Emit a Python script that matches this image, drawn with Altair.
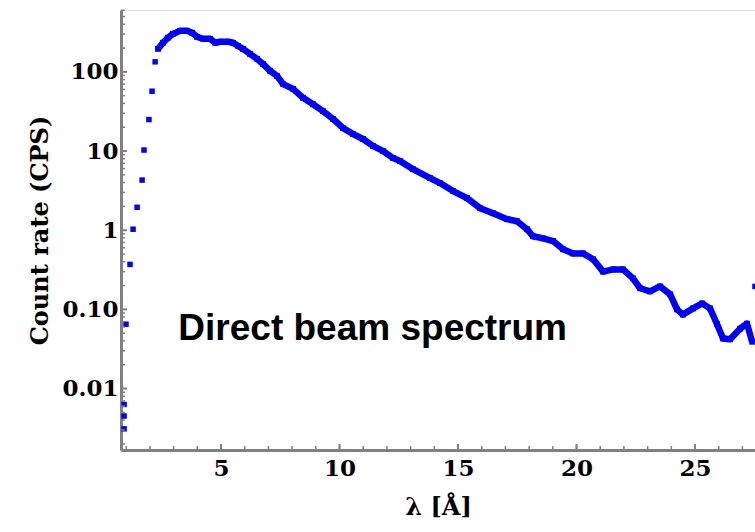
import altair as alt
import pandas as pd

# sparse points on the rising edge (and one stray point at the far right)
sparse_x = [0.91, 0.91, 0.91, 0.99, 1.16, 1.29, 1.46, 1.67, 1.75, 1.96, 2.09, 2.22, 27.53]
sparse_y = [0.0031, 0.0045, 0.0063, 0.065, 0.37, 1.03, 1.95, 4.3, 10.3, 25, 57, 134, 0.195]

# dense part of the spectrum
curve_x = [2.34, 2.55, 2.76, 2.97, 3.27, 3.57, 3.78, 3.99, 4.24, 4.54, 4.75, 4.96, 5.30, 5.51,
           5.72, 5.93, 6.22, 6.52, 6.77, 7.07, 7.36, 7.62, 8.04, 8.46, 8.88, 9.30, 9.73, 10.15,
           10.57, 10.99, 11.41, 11.84, 12.26, 12.55, 13.10, 13.82, 14.24, 14.79, 15.38, 15.93,
           16.48, 17.07, 17.49, 17.91, 18.16, 18.59, 19.01, 19.43, 19.85, 20.27, 20.70, 21.12,
           21.54, 21.96, 22.38, 22.68, 23.10, 23.52, 23.95, 24.24, 24.49, 24.92, 25.30, 25.63,
           25.93, 26.18, 26.48, 26.90, 27.19, 27.41]
curve_y = [195, 233, 270, 302, 330, 330, 312, 277, 262, 262, 233, 240, 240, 233,
           213, 195, 169, 146, 126, 103, 89, 70, 61, 47, 39, 32, 25.4, 19.5,
           16.4, 14.2, 11.6, 10, 8.15, 7.5, 5.9, 4.55, 3.94, 3.12, 2.54, 1.90,
           1.64, 1.38, 1.30, 1.03, 0.84, 0.79, 0.73, 0.575, 0.51, 0.51, 0.43, 0.30,
           0.32, 0.32, 0.247, 0.185, 0.169, 0.195, 0.155, 0.10, 0.086, 0.103, 0.119, 0.103,
           0.065, 0.043, 0.042, 0.057, 0.066, 0.039]

x_major = [5, 10, 15, 20, 25]
x_minor = list(range(1, 28))
y_major = [0.01, 0.1, 1, 10, 100]
y_minor = [m * d for d in [0.001, 0.01, 0.1, 1, 10, 100] for m in range(2, 10)]
y_minor = [v for v in y_minor if 0.0017 <= v <= 600]

annotation = "Direct beam spectrum"
anno_x, anno_y = 3.2, 0.041

W, H = 634, 440
BLUE = "#0000FF"
GREY = "#808080"
TICK_FONT = "DejaVu Serif"

xscale = alt.Scale(domain=[0.78, 27.53], nice=False, zero=False)
yscale = alt.Scale(type="log", domain=[0.001675, 605], nice=False)

x_axis = alt.Axis(values=x_major, ticks=False, grid=False, domainColor=GREY, domainWidth=3,
                  labelFont=TICK_FONT, labelFontWeight="bold", labelFontSize=23, labelColor="black",
                  labelPadding=7, title="λ [Å]", titleFont=TICK_FONT, titleFontWeight="bold",
                  titleFontSize=24, titleColor="black", titlePadding=15, format="d")
y_axis = alt.Axis(values=y_major, ticks=False, grid=False, domainColor=GREY, domainWidth=3,
                  labelFont=TICK_FONT, labelFontWeight="bold", labelFontSize=23, labelColor="black",
                  labelPadding=3,
                  labelExpr="datum.value >= 1 ? format(datum.value, 'd') : format(datum.value, '.2f')",
                  title="Count rate (CPS)", titleFont=TICK_FONT, titleFontWeight="bold",
                  titleFontSize=24, titleColor="black", titlePadding=9)

curve_df = pd.DataFrame({"x": curve_x, "y": curve_y})
sparse_df = pd.DataFrame({"x": sparse_x, "y": sparse_y})

line = alt.Chart(curve_df).mark_line(color=BLUE, strokeWidth=6.5, strokeJoin="round", clip=True).encode(
    x=alt.X("x:Q", scale=xscale, axis=x_axis),
    y=alt.Y("y:Q", scale=yscale, axis=y_axis),
)
curve_pts = alt.Chart(curve_df).mark_square(color=BLUE, size=34, opacity=1, clip=True).encode(
    x=alt.X("x:Q", scale=xscale), y=alt.Y("y:Q", scale=yscale)
)
pts = alt.Chart(sparse_df).mark_square(color=BLUE, size=30, opacity=1, clip=True).encode(
    x=alt.X("x:Q", scale=xscale), y=alt.Y("y:Q", scale=yscale)
)

xmaj = alt.Chart(pd.DataFrame({"t": x_major})).mark_rule(color=GREY, strokeWidth=2).encode(
    x=alt.X("t:Q", scale=xscale), y=alt.value(H), y2=alt.value(H - 6))
xmin = alt.Chart(pd.DataFrame({"t": x_minor})).mark_rule(color=GREY, strokeWidth=1.5).encode(
    x=alt.X("t:Q", scale=xscale), y=alt.value(H), y2=alt.value(H - 4))
ymaj = alt.Chart(pd.DataFrame({"t": y_major})).mark_rule(color=GREY, strokeWidth=2).encode(
    y=alt.Y("t:Q", scale=yscale), x=alt.value(0), x2=alt.value(6))
ymin = alt.Chart(pd.DataFrame({"t": y_minor})).mark_rule(color=GREY, strokeWidth=1.5).encode(
    y=alt.Y("t:Q", scale=yscale), x=alt.value(0), x2=alt.value(4))

text = alt.Chart(pd.DataFrame({"x": [anno_x], "y": [anno_y], "t": [annotation]})).mark_text(
    font="Liberation Sans", fontWeight="bold", fontSize=37, color="black",
    align="left", baseline="alphabetic").encode(
    x=alt.X("x:Q", scale=xscale), y=alt.Y("y:Q", scale=yscale), text="t:N")

chart = alt.layer(line, curve_pts, pts, xmaj, xmin, ymaj, ymin, text).properties(
    width=W, height=H,
    autosize=alt.AutoSizeParams(type="none"),
    padding={"left": 121, "top": 10, "right": 0, "bottom": 82},
).configure_view(stroke=None).configure(background="white")

chart.save("out.html", embed_options={"renderer": "svg", "actions": False})
